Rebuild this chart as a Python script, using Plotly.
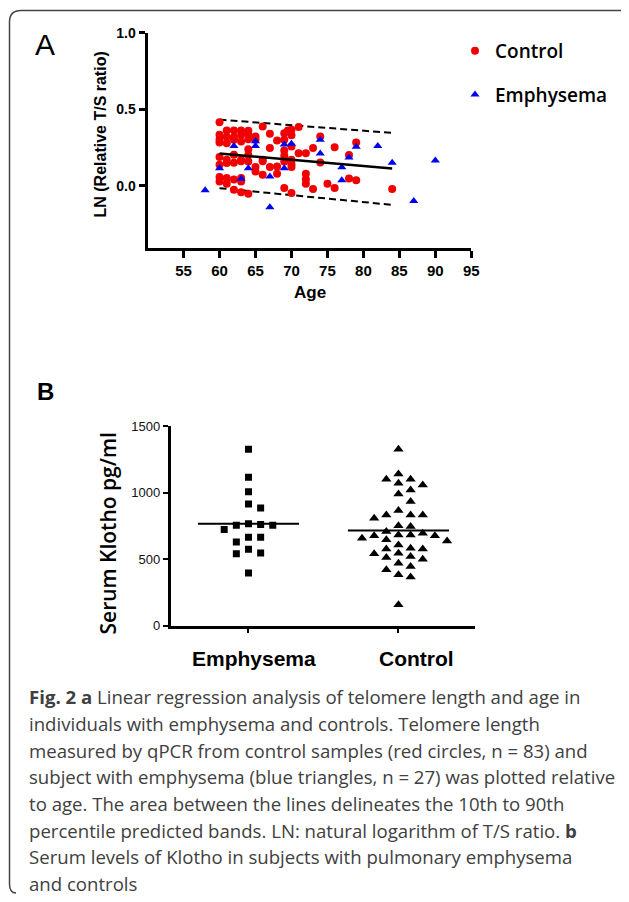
import plotly.graph_objects as go

# ---------------- data ----------------
control_age = [60, 60, 60, 60, 60, 60, 60, 60,
               61, 61, 61, 61, 61, 61, 61,
               62, 62, 62, 62, 62, 62, 62,
               63, 63, 63, 63, 63, 63, 63, 63,
               64, 64, 64, 64, 64, 64, 64,
               65, 65, 65, 65,
               66, 66, 66, 66,
               67, 67, 67,
               68, 68, 68,
               69, 69, 69, 69, 69, 69,
               69.5,
               70, 70, 70, 70, 70, 70, 70,
               71, 71,
               72, 72, 72, 72,
               73, 73,
               74, 74,
               75,
               76, 76,
               78, 78,
               79, 79,
               84]
control_ln = [0.415, 0.333, 0.283, 0.187, 0.137, 0.057, 0.028, 0.30,
              0.361, 0.278, 0.148, 0.05, 0.013, 0.32, 0.17,
              0.361, 0.317, 0.202, -0.026, 0.30, 0.15, 0.04,
              0.361, 0.333, 0.289, 0.170, 0.028, -0.043, 0.16, 0.05,
              0.333, 0.304, 0.239, 0.159, -0.052, 0.36, 0.20,
              0.322, 0.122, 0.093, 0.30,
              0.387, 0.17, 0.072, 0.16,
              0.339, 0.246, 0.122,
              0.296, 0.126, 0.078,
              0.343, 0.23, 0.196, 0.159, -0.015, 0.30,
              0.361,
              0.365, 0.257, 0.17, 0.122, -0.048, 0.33, 0.14,
              0.383, 0.213,
              0.213, 0.078, 0.043, 0.013,
              0.246, -0.022,
              0.322, 0.152,
              0.013,
              0.252, -0.015,
              0.20, 0.048,
              0.283, 0.035,
              -0.022]

emph_age = [58, 60, 62, 63, 64, 65, 65, 67, 67, 69, 69, 70, 74, 74, 77, 77, 78, 79, 82, 84, 87, 90]
emph_ln = [-0.03, 0.115, 0.26, 0.045, 0.115, 0.29, 0.26, 0.06, -0.14, 0.27, 0.115, 0.275,
           0.30, 0.21, 0.12, 0.035, 0.185, 0.255, 0.26, 0.15, -0.10, 0.165]

fit_age = [60, 84]
fit_mean = [0.21, 0.112]
fit_upper = [0.432, 0.345]
fit_lower = [-0.016, -0.125]

age_ticks = [55, 60, 65, 70, 75, 80, 85, 90, 95]
ln_ticks = [0.0, 0.5, 1.0]
ln_tick_labels = ["0.0", "0.5", "1.0"]

klotho_groups = ["Emphysema", "Control"]
klotho_emphysema = [1325, 1115, 1007, 885, 755, 722, 628, 540, 395,
                    915, 760, 665, 575,
                    755, 665, 547,
                    765]
klotho_control = [1325, 1100, 1070, 1020, 1057, 1100, 1140, 990, 932, 832,
                  832, 808, 832, 865, 745, 750, 695, 682, 675, 675,
                  682, 707, 645, 637, 657, 607, 577, 577, 582, 540,
                  512, 500, 520, 545, 470, 445, 420, 382, 365, 157]
klotho_median = [765, 715]
klotho_ticks = [0, 500, 1000, 1500]

caption_lines = [
    "<b>Fig. 2 a</b> Linear regression analysis of telomere length and age in",
    "individuals with emphysema and controls. Telomere length",
    "measured by qPCR from control samples (red circles, n = 83) and",
    "subject with emphysema (blue triangles, n = 27) was plotted relative",
    "to age. The area between the lines delineates the 10th to 90th",
    "percentile predicted bands. LN: natural logarithm of T/S ratio. <b>b</b>",
    "Serum levels of Klotho in subjects with pulmonary emphysema",
    "and controls",
]

# ---------------- helpers ----------------
# the page body has an 8px margin; lay out in window pixels and compensate
OFF = 8
W, H = 629 - OFF, 902 - OFF


def px(x):
    return (x - OFF) / W


def py(y):
    return 1 - (y - OFF) / H


def swarm(values, slot, gap):
    """Greedy beeswarm: returns x offsets (in axis units) for each value."""
    order = sorted(range(len(values)), key=lambda i: -values[i])
    placed = []
    offs = [0.0] * len(values)
    cands = [0, 1, -1, 2, -2, 3, -3, 4, -4, 5, -5]
    for i in order:
        for c in cands:
            if all(not (pc == c and abs(pv - values[i]) < gap) for pc, pv in placed):
                placed.append((c, values[i]))
                offs[i] = c * slot
                break
    return offs


RED = "#f00000"
BLUE = "#0000f0"

fig = go.Figure()

# ---------------- panel A ----------------
fig.add_trace(go.Scatter(x=fit_age, y=fit_upper, mode="lines", xaxis="x", yaxis="y",
                         line=dict(color="black", width=2, dash="7px,4px"), showlegend=False, hoverinfo="skip"))
fig.add_trace(go.Scatter(x=fit_age, y=fit_lower, mode="lines", xaxis="x", yaxis="y",
                         line=dict(color="black", width=2, dash="7px,4px"), showlegend=False, hoverinfo="skip"))
fig.add_trace(go.Scatter(x=control_age, y=control_ln, mode="markers", name="Control", legendgroup="c",
                         xaxis="x", yaxis="y",
                         marker=dict(symbol="circle", size=8, color=RED)))
fig.add_trace(go.Scatter(x=emph_age, y=emph_ln, mode="markers", name="Emphysema", legendgroup="e",
                         xaxis="x", yaxis="y",
                         marker=dict(symbol="triangle-up", size=8, color=BLUE)))
fig.add_trace(go.Scatter(x=fit_age, y=fit_mean, mode="lines", xaxis="x", yaxis="y",
                         line=dict(color="black", width=2.5), showlegend=False, hoverinfo="skip"))

# ---------------- panel B ----------------
slot = 0.081
emp_off = swarm(klotho_emphysema, slot, 60)
con_off = swarm(klotho_control, slot, 60)
fig.add_trace(go.Scatter(x=[0 + o for o in emp_off], y=klotho_emphysema, mode="markers",
                         xaxis="x2", yaxis="y2", showlegend=False,
                         marker=dict(symbol="square", size=7, color="black")))
fig.add_trace(go.Scatter(x=[1 + o for o in con_off], y=klotho_control, mode="markers",
                         xaxis="x2", yaxis="y2", showlegend=False,
                         marker=dict(symbol="triangle-up", size=9, color="black")))
half = 0.337
for i, m in enumerate(klotho_median):
    fig.add_trace(go.Scatter(x=[i - half, i + half], y=[m, m], mode="lines",
                             xaxis="x2", yaxis="y2", showlegend=False, hoverinfo="skip",
                             line=dict(color="black", width=2)))

axis_common = dict(showgrid=False, zeroline=False, showline=True, linecolor="black",
                   ticks="outside", tickcolor="black", automargin=False, fixedrange=True)

fig.update_layout(
    width=W, height=H,
    margin=dict(l=0, r=0, t=0, b=0, pad=0),
    paper_bgcolor="white", plot_bgcolor="white",
    xaxis=dict(domain=[px(147.6), px(471.3)], range=[50, 95], anchor="y",
               tickvals=age_ticks, ticklen=7, tickwidth=2.5, linewidth=3,
               tickfont=dict(family="Arial", size=15, color="black", weight="bold"), **axis_common),
    yaxis=dict(domain=[py(247.7), py(32.7)], range=[-0.405, 1.0], anchor="x",
               tickvals=ln_ticks, ticktext=ln_tick_labels, ticklen=6, tickwidth=2.5, linewidth=3,
               tickfont=dict(family="Arial", size=14, color="black", weight="bold"), **axis_common),
    xaxis2=dict(domain=[px(170.5), px(474.5)], range=[-0.52, 1.507], anchor="y2",
                tickvals=[0, 1], showticklabels=False, ticklen=5, tickwidth=2, linewidth=2.5,
                **axis_common),
    yaxis2=dict(domain=[py(625.7), py(426)], range=[0, 1500], anchor="x2",
                tickvals=klotho_ticks, ticklen=5, tickwidth=2, linewidth=2.5,
                tickfont=dict(family="Arial", size=13, color="#111"), **axis_common),
    legend=dict(x=px(455), y=py(32), xanchor="left", yanchor="top",
                font=dict(family="Open Sans", size=19, color="black", weight=600),
                tracegroupgap=16, bgcolor="rgba(0,0,0,0)"),
    showlegend=True,
)

ann = []
ann.append(dict(text="A", x=px(45), y=py(45), font=dict(family="Arial", size=30, color="black")))
ann.append(dict(text="B", x=px(45), y=py(391.5), font=dict(family="Arial", size=24, color="black", weight="bold")))
ann.append(dict(text="LN (Relative T/S ratio)", x=px(100), y=py(134.5), textangle=-90,
                font=dict(family="Arial", size=16, color="black", weight="bold")))
ann.append(dict(text="Age", x=px(309.5), y=py(293), font=dict(family="Arial", size=17, color="black", weight="bold")))
ann.append(dict(text="Serum Klotho pg/ml", x=px(107.5), y=py(534), textangle=-90,
                font=dict(family="Open Sans", size=21, color="black", weight=600)))
ann.append(dict(text=klotho_groups[0], x=px(254), y=py(658),
                font=dict(family="Arial", size=21, color="black", weight="bold")))
ann.append(dict(text=klotho_groups[1], x=px(416), y=py(658),
                font=dict(family="Arial", size=21, color="black", weight="bold")))
for k, line in enumerate(caption_lines):
    ann.append(dict(text=line, x=px(26.5), y=py(696.7 + k * 26.67), xanchor="left",
                    font=dict(family="Open Sans", size=18.6, color="#404040")))
for a in ann:
    a.setdefault("xanchor", "center")
    a.update(xref="paper", yref="paper", yanchor="middle", showarrow=False)
fig.update_layout(annotations=ann)

# rounded border (cropped at right and bottom)
border = (f"M {px(16)},{py(893)} Q {px(9.5)},{py(893)} {px(9.5)},{py(884)} "
          f"L {px(9.5)},{py(22)} Q {px(9.5)},{py(10.5)} {px(21)},{py(10.5)} "
          f"L {px(619)},{py(10.5)} Q {px(631)},{py(10.5)} {px(631)},{py(22)}")
fig.add_shape(type="path", path=border, xref="paper", yref="paper",
              line=dict(color="#444", width=1.5))

fig.write_html("out.html")
